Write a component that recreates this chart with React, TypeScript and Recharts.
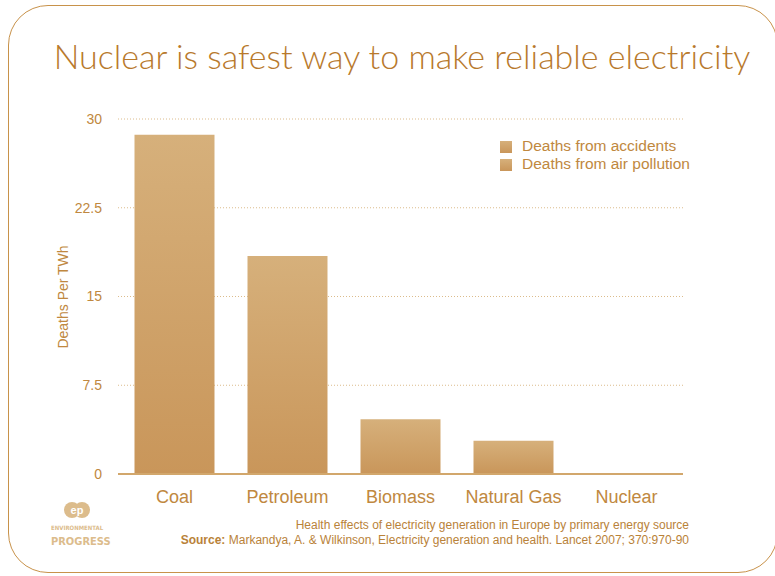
import { Bar, BarChart, CartesianGrid, Legend, XAxis, YAxis } from "recharts";

const SOURCES = ["Coal", "Petroleum", "Biomass", "Natural Gas", "Nuclear"];
const ACCIDENTS = [0.02, 0.03, 0.0, 0.02, 0.02];
const AIR_POLLUTION = [28.65, 18.4, 4.63, 2.8, 0.05];
const Y_TICKS = [0, 7.5, 15, 22.5, 30];

const TAN = "#c8924a";
const TEXT = "#c08840";
const LIGHT = "#dcbc8c";
const FONT = "'Liberation Sans', Arial, sans-serif";
const NARROW = "'DejaVu Sans Condensed', 'Liberation Sans Narrow', 'Liberation Sans', sans-serif";

const data = SOURCES.map((source, i) => ({
  source,
  accidents: ACCIDENTS[i],
  airPollution: AIR_POLLUTION[i],
}));

function Logo() {
  return (
    <svg width={80} height={60} style={{ position: "absolute", left: 46, top: 500 }}>
      <circle cx={26} cy={10} r={8} fill={LIGHT} />
      <circle cx={36} cy={10} r={8} fill={LIGHT} />
      <text x={31} y={14} fontSize={11} fontWeight={700} fill="#fff" textAnchor="middle" fontFamily={FONT}>
        ep
      </text>
      <text x={5} y={30} fontSize={6} fontWeight={700} fill={LIGHT} fontFamily={NARROW}>
        ENVIRONMENTAL
      </text>
      <text x={5} y={45} fontSize={11} fontWeight={700} fill={LIGHT} fontFamily={NARROW}>
        PROGRESS
      </text>
    </svg>
  );
}

export default function App() {
  return (
    <div
      style={{
        position: "absolute",
        left: 0,
        top: 0,
        width: 775,
        height: 576,
        background: "#fff",
        overflow: "hidden",
        fontFamily: FONT,
      }}
    >
      <div
        style={{
          position: "absolute",
          left: 8,
          top: 5,
          width: 770,
          height: 568,
          border: `1.5px solid ${TAN}`,
          borderRadius: 40,
          boxSizing: "border-box",
        }}
      />
      <div
        style={{
          position: "absolute",
          left: 0,
          top: 35,
          width: 804,
          textAlign: "center",
          fontFamily: "Lato, sans-serif",
          fontWeight: 300,
          fontSize: 34,
          color: "#b8792c",
          whiteSpace: "nowrap",
        }}
      >
        Nuclear is safest way to make reliable electricity
      </div>
      <BarChart
        width={775}
        height={576}
        data={data}
        margin={{ top: 119, right: 92, left: 58, bottom: 72 }}
        barCategoryGap="14.6%"
        style={{ position: "absolute", left: 0, top: 0 }}
      >
        <defs>
          <linearGradient id="barFill" x1="0" y1="0" x2="0" y2="1">
            <stop offset="0%" stopColor="#d6b07b" />
            <stop offset="100%" stopColor="#c9965a" />
          </linearGradient>
        </defs>
        <CartesianGrid horizontal vertical={false} strokeDasharray="1 2" stroke={LIGHT} />
        <XAxis
          dataKey="source"
          height={30}
          tickLine={false}
          axisLine={{ stroke: "#d2a76c", strokeWidth: 2 }}
          tick={{ fontSize: 18, fill: TEXT, fontFamily: FONT }}
          tickMargin={10}
        />
        <YAxis
          width={60}
          domain={[0, 30]}
          ticks={Y_TICKS}
          axisLine={false}
          tickLine={false}
          tick={{ fontSize: 14, fill: TEXT, fontFamily: FONT }}
          tickMargin={10}
        />
        <Legend
          layout="vertical"
          verticalAlign="middle"
          align="center"
          iconType="square"
          iconSize={12}
          wrapperStyle={{ left: 500, top: 137, width: 230, lineHeight: "18px" }}
          formatter={(value) => (
            <span style={{ color: TEXT, fontSize: 15.5, fontFamily: FONT, marginLeft: 6 }}>{value}</span>
          )}
        />
        <Bar
          dataKey="accidents"
          name="Deaths from accidents"
          stackId="a"
          fill="url(#barFill)"
          legendType="square"
          isAnimationActive={false}
        />
        <Bar
          dataKey="airPollution"
          name="Deaths from air pollution"
          stackId="a"
          fill="url(#barFill)"
          legendType="square"
          isAnimationActive={false}
        />
      </BarChart>
      <div
        style={{
          position: "absolute",
          left: 63,
          top: 297,
          transform: "translate(-50%, -50%) rotate(-90deg)",
          fontSize: 14,
          color: TEXT,
          whiteSpace: "nowrap",
        }}
      >
        Deaths Per TWh
      </div>
      <div
        style={{
          position: "absolute",
          right: 86,
          top: 518,
          textAlign: "right",
          fontSize: 12,
          lineHeight: "15px",
          color: "#b98239",
          whiteSpace: "nowrap",
        }}
      >
        <div>Health effects of electricity generation in Europe by primary energy source</div>
        <div>
          <b>Source:</b> Markandya, A. &amp; Wilkinson, Electricity generation and health. Lancet 2007;
          370:970-90
        </div>
      </div>
      <Logo />
    </div>
  );
}
